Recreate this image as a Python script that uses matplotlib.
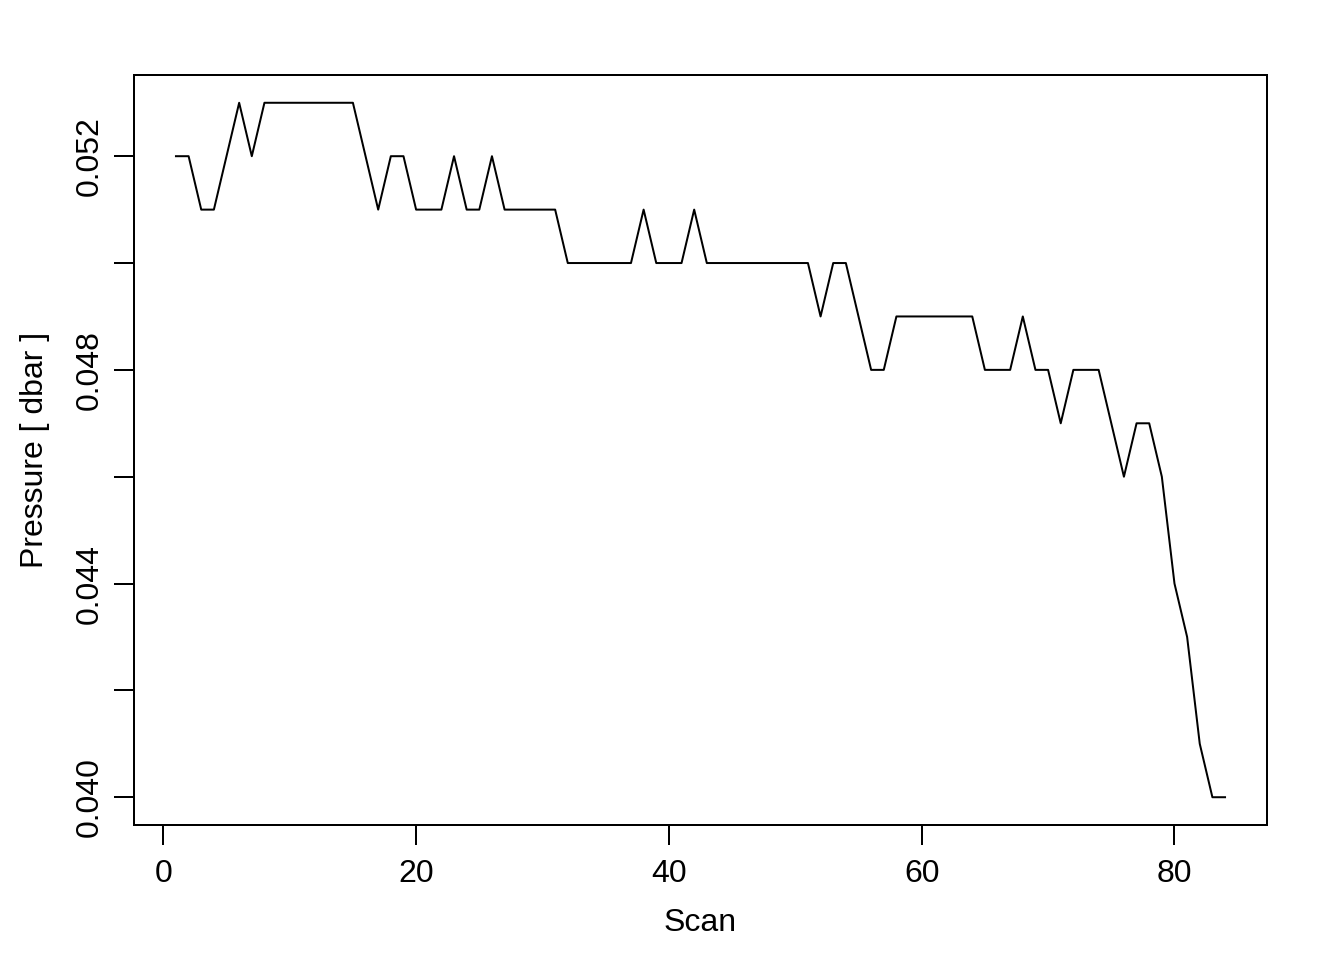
import matplotlib
matplotlib.use("Agg")
import matplotlib.pyplot as plt
import numpy as np

plt.rcParams['font.family'] = ['Liberation Sans', 'DejaVu Sans']

scan = list(range(1, 85))
pressure = [0.052, 0.052, 0.051, 0.051, 0.052, 0.053, 0.052, 0.053, 0.053, 0.053,
            0.053, 0.053, 0.053, 0.053, 0.053, 0.052, 0.051, 0.052, 0.052, 0.051,
            0.051, 0.051, 0.052, 0.051, 0.051, 0.052, 0.051, 0.051, 0.051, 0.051,
            0.051, 0.050, 0.050, 0.050, 0.050, 0.050, 0.050, 0.051, 0.050, 0.050,
            0.050, 0.051, 0.050, 0.050, 0.050, 0.050, 0.050, 0.050, 0.050, 0.050,
            0.050, 0.049, 0.050, 0.050, 0.049, 0.048, 0.048, 0.049, 0.049, 0.049,
            0.049, 0.049, 0.049, 0.049, 0.048, 0.048, 0.048, 0.049, 0.048, 0.048,
            0.047, 0.048, 0.048, 0.048, 0.047, 0.046, 0.047, 0.047, 0.046, 0.044,
            0.043, 0.041, 0.040, 0.040]

xticks = [0, 20, 40, 60, 80]
yticks = [0.040, 0.042, 0.044, 0.046, 0.048, 0.050, 0.052]
ytick_labels = ["0.040", "", "0.044", "", "0.048", "", "0.052"]

W, H = 1344, 960
fig = plt.figure(figsize=(W / 100, H / 100), dpi=100)
ax = fig.add_axes([134 / W, 1 - 825 / H, (1267 - 134) / W, (825 - 75) / H])

ax.plot(scan, pressure, color='black', linewidth=1.44)

xmin, xmax = min(scan), max(scan)
xpad = (xmax - xmin) * 0.04
ax.set_xlim(xmin - xpad, xmax + xpad)
ymin, ymax = min(pressure), max(pressure)
ypad = (ymax - ymin) * 0.04
ax.set_ylim(ymin - ypad, ymax + ypad)

ax.set_xticks(xticks)
ax.set_xticklabels([str(t) for t in xticks])
ax.set_yticks(yticks)
ax.set_yticklabels(ytick_labels, rotation=90, va='center')

for s in ax.spines.values():
    s.set_linewidth(1.44)
ax.tick_params(axis='both', length=14.4, width=1.44, labelsize=23, direction='out')
ax.tick_params(axis='x', pad=10)
ax.tick_params(axis='y', pad=7)

fig.text(700.5 / W, 1 - 923 / H, "Scan", ha='center', va='center', fontsize=23)
fig.text(35 / W, 1 - 450 / H, "Pressure [ dbar ]", ha='center', va='center',
         rotation=90, fontsize=23)

fig.savefig("out.png", dpi=100)
